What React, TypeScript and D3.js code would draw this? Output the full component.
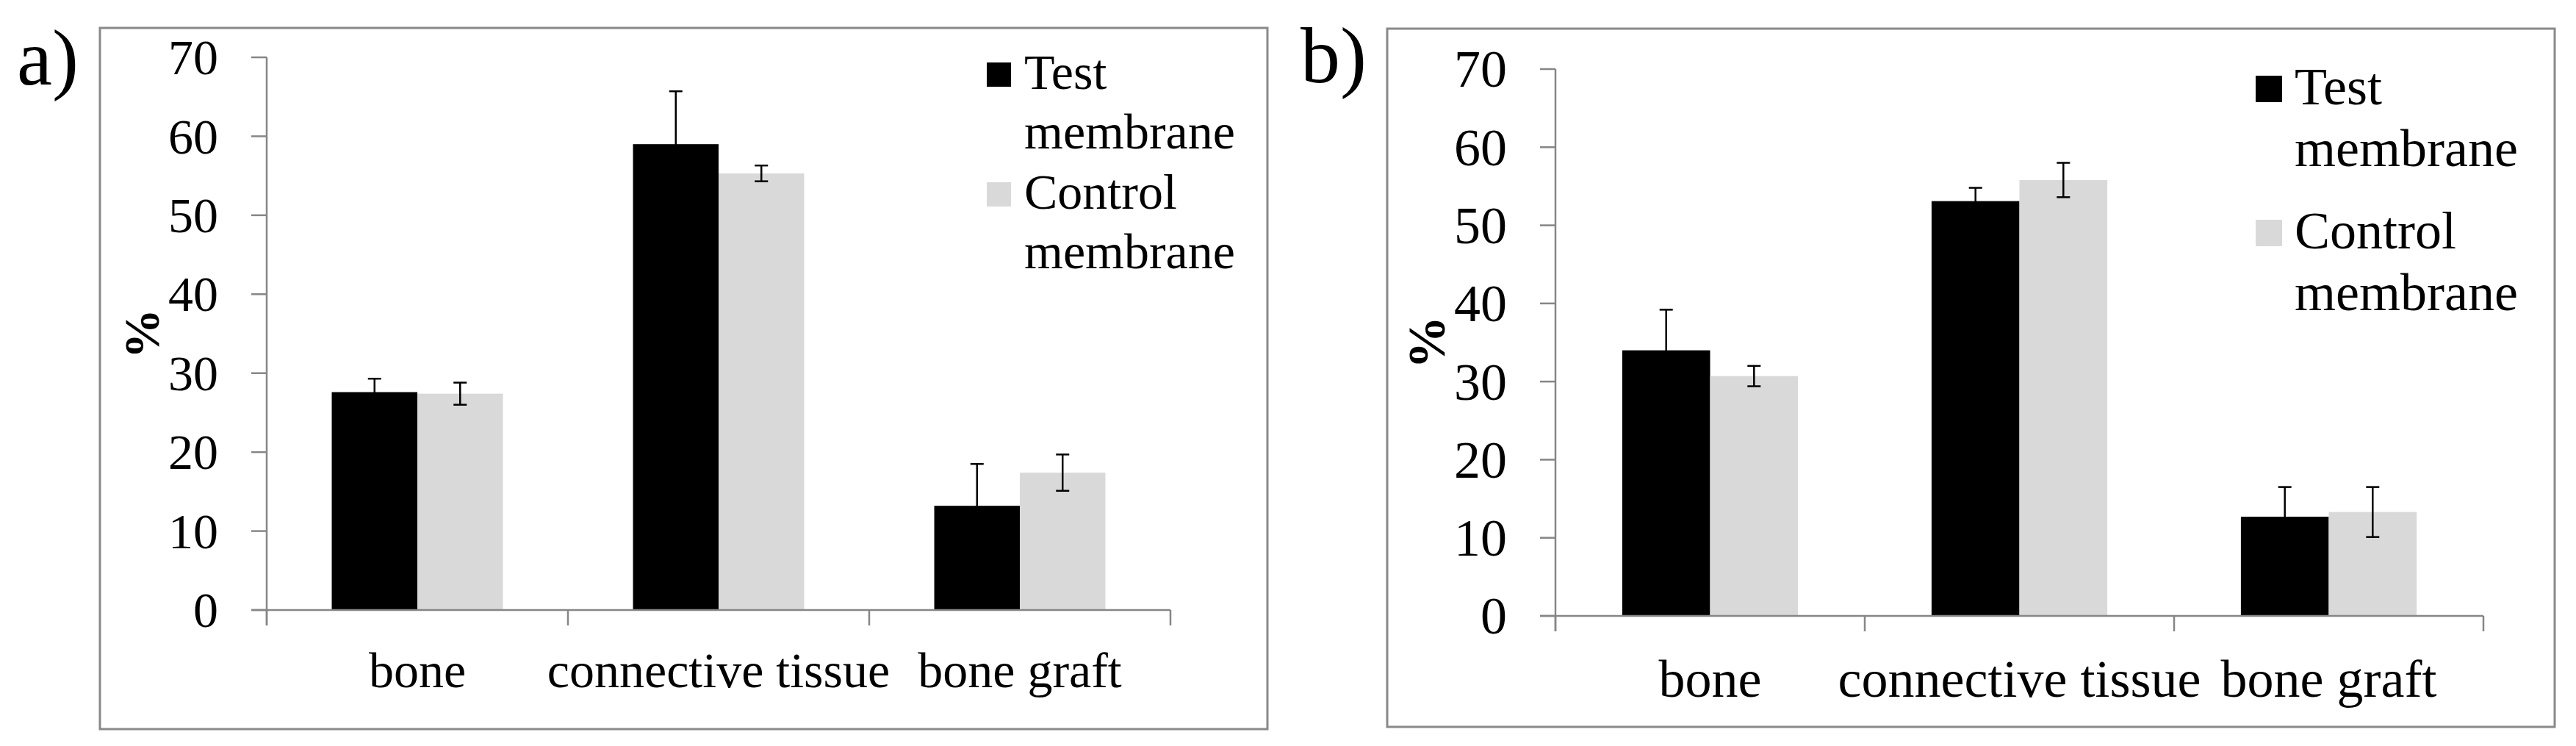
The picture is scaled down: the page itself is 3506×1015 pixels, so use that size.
import React from "react";
import { scaleBand, scaleLinear, range } from "d3";

const categories = ["bone", "connective tissue", "bone graft"];
const seriesNames = [["Test", "membrane"], ["Control", "membrane"]];
const seriesColors = ["#000000", "#d9d9d9"];
const yTicks = [0, 10, 20, 30, 40, 50, 60, 70];

// panel a)
const testA = [27.6, 59.0, 13.2];
const testErrA = [1.7, 6.7, 5.3];
const controlA = [27.4, 55.3, 17.4];
const controlErrA = [1.4, 1.0, 2.3];

// panel b)
const testB = [34.0, 53.1, 12.7];
const testErrB = [5.2, 1.7, 3.8];
const controlB = [30.7, 55.8, 13.3];
const controlErrB = [1.3, 2.2, 3.2];

const FONT = "Liberation Serif";
const AXIS = "#868686";

const panels = [
  {
    label: "a)",
    values: [testA, controlA],
    errors: [testErrA, controlErrA],
    frame: { x: 136, y: 38, w: 1589, h: 954 },
    plot: { left: 363, right: 1593, top: 78, bottom: 830 },
    font: 68,
    letter: { x: 23, y: 115, size: 108 },
    pctX: 216,
    catDy: 105,
    legend: { x: 1343, y: 85, sq: 33, textDx: 51, lineH: 81, entryGap: 163 },
  },
  {
    label: "b)",
    values: [testB, controlB],
    errors: [testErrB, controlErrB],
    frame: { x: 1888, y: 39, w: 1589, h: 950 },
    plot: { left: 2117, right: 3380, top: 94, bottom: 838 },
    font: 72,
    letter: { x: 1770, y: 112, size: 108 },
    pctX: 1966,
    catDy: 110,
    legend: { x: 3070, y: 103, sq: 36, textDx: 53, lineH: 84, entryGap: 196 },
  },
];

const T = ({ children, ...rest }) => (
  <text fontFamily={FONT} style={{ fontFamily: FONT }} {...rest}>
    {children}
  </text>
);

const Panel = ({ p }) => {
  const { plot, frame, font, legend } = p;
  const x = scaleBand().domain(categories).range([plot.left, plot.right]).padding(0);
  const xs = scaleBand()
    .domain(range(seriesNames.length).map(String))
    .range([0, x.bandwidth()])
    .paddingInner(0)
    .paddingOuter(0.76);
  const y = scaleLinear().domain([0, 70]).range([plot.bottom, plot.top]);
  const cap = 9;
  const boundaries = [...categories.map((c) => x(c)), plot.right];

  return (
    <g>
      <rect x={frame.x} y={frame.y} width={frame.w} height={frame.h} fill="#fff" stroke="#898989" strokeWidth={3} />
      <T x={p.letter.x} y={p.letter.y} fontSize={p.letter.size}>
        {p.label}
      </T>

      {/* bars */}
      {p.values.map((vals, si) =>
        vals.map((v, ci) => (
          <rect
            key={`b${si}-${ci}`}
            x={x(categories[ci]) + xs(String(si))}
            y={y(v)}
            width={xs.bandwidth()}
            height={y(0) - y(v)}
            fill={seriesColors[si]}
          />
        ))
      )}

      {/* error bars */}
      {p.values.map((vals, si) =>
        vals.map((v, ci) => {
          const cx = x(categories[ci]) + xs(String(si)) + xs.bandwidth() / 2;
          const e = p.errors[si][ci];
          const y1 = y(v + e);
          const y0 = y(v - e);
          return (
            <g key={`e${si}-${ci}`} stroke="#000" strokeWidth={2.5}>
              <line x1={cx} x2={cx} y1={y1} y2={y0} />
              <line x1={cx - cap} x2={cx + cap} y1={y1} y2={y1} />
              <line x1={cx - cap} x2={cx + cap} y1={y0} y2={y0} />
            </g>
          );
        })
      )}

      {/* y axis */}
      <line x1={plot.left} x2={plot.left} y1={y(70)} y2={y(0) + 21} stroke={AXIS} strokeWidth={2.5} />
      {yTicks.map((t) => (
        <g key={`y${t}`}>
          <line x1={plot.left - 21} x2={plot.left} y1={y(t)} y2={y(t)} stroke={AXIS} strokeWidth={2.5} />
          <T x={plot.left - 66} y={y(t) + font * 0.34} textAnchor="end" fontSize={font}>
            {t}
          </T>
        </g>
      ))}
      <T
        transform={`translate(${p.pctX},${(plot.top + plot.bottom) / 2}) rotate(-90)`}
        textAnchor="middle"
        fontSize={font}
        fontWeight="bold"
      >
        %
      </T>

      {/* x axis */}
      <line x1={plot.left - 21} x2={plot.right} y1={y(0)} y2={y(0)} stroke={AXIS} strokeWidth={2.5} />
      {boundaries.map((bx, i) => (
        <line key={`xt${i}`} x1={bx} x2={bx} y1={y(0)} y2={y(0) + 21} stroke={AXIS} strokeWidth={2.5} />
      ))}
      {categories.map((c) => (
        <T key={c} x={x(c) + x.bandwidth() / 2} y={plot.bottom + p.catDy} textAnchor="middle" fontSize={font}>
          {c}
        </T>
      ))}

      {/* legend */}
      {seriesNames.map((lines, si) => {
        const top = legend.y + si * legend.entryGap;
        return (
          <g key={`l${si}`}>
            <rect x={legend.x} y={top} width={legend.sq} height={legend.sq} fill={seriesColors[si]} />
            {lines.map((ln, li) => (
              <T
                key={ln + li}
                x={legend.x + legend.textDx}
                y={top + legend.sq + 3 + li * legend.lineH}
                fontSize={font}
              >
                {ln}
              </T>
            ))}
          </g>
        );
      })}
    </g>
  );
};

export default function App() {
  return (
    <svg width={3506} height={1015} fontFamily={FONT} style={{ position: "absolute", left: 0, top: 0 }}>
      <rect width={3506} height={1015} fill="#fff" />
      {panels.map((p) => (
        <Panel key={p.label} p={p} />
      ))}
    </svg>
  );
}
